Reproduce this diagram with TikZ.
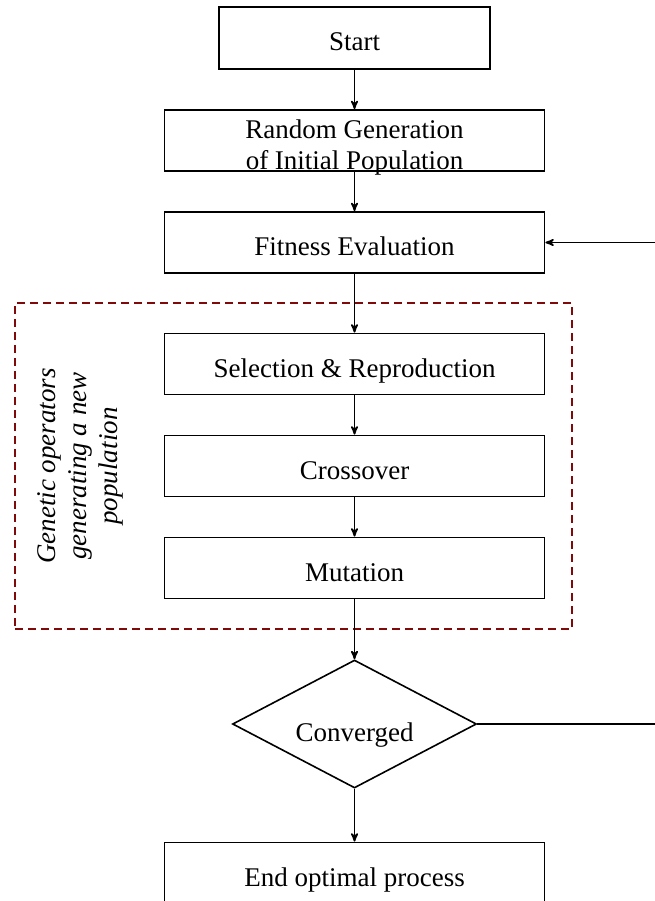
\documentclass[tikz,border=0pt]{standalone}
\usepackage{fontspec}
\setmainfont{Liberation Serif}
\usetikzlibrary{arrows}
\usetikzlibrary{shapes.geometric}
\definecolor{maroon}{RGB}{128,10,10}
\tikzstyle{every link} = []
\tikzstyle{link} = [>=stealth', ->, draw, line width=1.8pt, every link]
\tikzstyle{flowbox} = [rectangle, draw, line width=1.8pt, minimum width=380pt, minimum height=61pt, inner sep=0pt, align=center, text height=26pt, text depth=0pt]
\tikzstyle{decision} = [diamond, aspect=2, draw, line width=1.6pt, minimum width=244pt, minimum height=128pt, inner sep=0pt, text height=34pt, text depth=0pt]

\begin{document}
\begin{tikzpicture}[x=1pt, y=-1pt, font=\fontsize{27}{31}\selectfont]
        \useasboundingbox (0,0) rectangle (655,901);
        \tikzstyle{group} = [draw=maroon, line width=1.5pt, dash pattern=on 8pt off 5pt, minimum width=557pt, minimum height=326pt]

        \node[group] (operators) at (293.5,466) {};
        \node[rotate=90, align=center, font=\fontsize{27}{31}\selectfont\itshape] (oplabel) at (80,466)
            {Genetic operators\\generating a new\\population};

        \node[flowbox, minimum width=271pt, minimum height=62pt] (start) at (354.5,38) {Start};
        \node[flowbox, text height=59pt] (random) at (354.5,140.5) {Random Generation\\of Initial Population};
        \node[flowbox] (fitness) at (354.5,242.5) {Fitness Evaluation};
        \node[flowbox] (selection) at (354.5,364) {Selection \& Reproduction};
        \node[flowbox] (crossover) at (354.5,466) {Crossover};
        \node[flowbox] (mutation) at (354.5,568) {Mutation};
        \node[decision] (converged) at (354.5,724) {Converged};
        \node[flowbox] (finish) at (354.5,873) {End optimal process};

        \coordinate (loopin) at (655,242.5);
        \coordinate (loopout) at (655,724);

        \path[link] (start) -- (random);
        \path[link] (random) -- (fitness);
        \path[link] (fitness) -- (selection);
        \path[link] (selection) -- (crossover);
        \path[link] (crossover) -- (mutation);
        \path[link] (mutation) -- (converged);
        \path[link] (converged) -- (finish);
        \path[link] (loopin) -- (fitness);
        \draw[line width=1.8pt] (converged.east) -- (loopout);
\end{tikzpicture}
\end{document}
